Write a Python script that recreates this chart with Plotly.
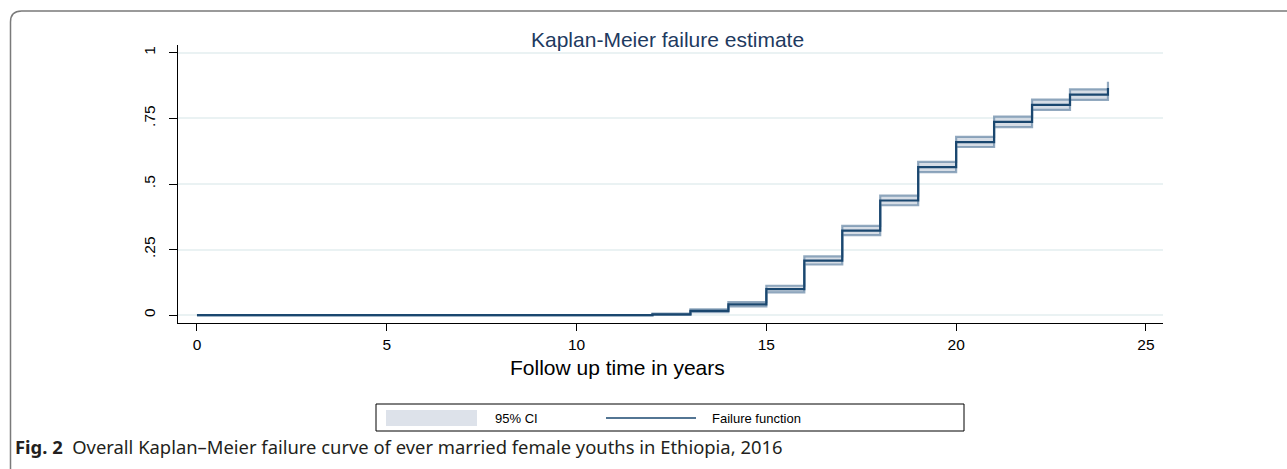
import plotly.graph_objects as go

# ---- data ----
times = [0, 12, 13, 14, 15, 16, 17, 18, 19, 20, 21, 22, 23, 24]
failure = [0, 0.003, 0.016, 0.041, 0.099, 0.208, 0.322, 0.437, 0.564, 0.660, 0.737, 0.802, 0.841, 0.866]
ci_lower = [0, 0.001, 0.011, 0.033, 0.087, 0.193, 0.305, 0.419, 0.545, 0.641, 0.717, 0.783, 0.821, 0.842]
ci_upper = [0, 0.006, 0.022, 0.050, 0.112, 0.224, 0.340, 0.456, 0.584, 0.680, 0.757, 0.822, 0.861, 0.890]
x_ticks = [0, 5, 10, 15, 20, 25]
y_ticks = [0, 0.25, 0.5, 0.75, 1]
y_tick_labels = ["0", ".25", ".5", ".75", "1"]

W, H = 1287, 469
L, R, T, B = 178, 1163, 45, 323  # plot area in pixels


def px(x):
    return (x - L) / (R - L)


def py(y):
    return (B - y) / (B - T)


NAVY = "#1A476F"
fig = go.Figure()

fig.add_trace(go.Scatter(x=times, y=ci_lower, mode="lines", line=dict(shape="hv", color="rgba(110,140,170,0.75)", width=2.2),
                         showlegend=False, hoverinfo="skip"))
fig.add_trace(go.Scatter(x=times, y=ci_upper, mode="lines", line=dict(shape="hv", color="rgba(110,140,170,0.75)", width=2.2),
                         fill="tonexty", fillcolor="rgba(200,210,222,0.75)", showlegend=False, hoverinfo="skip"))
fig.add_trace(go.Scatter(x=times, y=failure, mode="lines", line=dict(shape="hv", color=NAVY, width=2.2),
                         showlegend=False, hoverinfo="skip"))

fig.update_layout(
    width=W, height=H,
    margin=dict(l=L, r=W - R, t=T, b=H - B, pad=0),
    paper_bgcolor="white", plot_bgcolor="white",
    font=dict(family="Liberation Sans, Arial, sans-serif", color="black"),
    showlegend=False,
    xaxis=dict(range=[-0.5, 25.45], tickvals=x_ticks, ticks="outside", ticklen=7, tickcolor="black",
               showline=True, linecolor="black", linewidth=1, showgrid=False, zeroline=False,
               tickfont=dict(size=15.5)),
    yaxis=dict(range=[-0.03, 1.03], tickvals=y_ticks, ticktext=y_tick_labels, tickangle=-90,
               ticks="outside", ticklen=8, tickcolor="black", showline=True, linecolor="black", linewidth=1,
               showgrid=True, gridcolor="#EAF2F3", gridwidth=1.6, zeroline=False, tickfont=dict(size=15.5),
               ticklabelstandoff=8),
)

annotations = [
    dict(text="Kaplan-Meier failure estimate", x=px(667), y=py(40), xref="paper", yref="paper",
         showarrow=False, font=dict(size=21, color="#1E3A5F"), xanchor="center", yanchor="middle"),
    dict(text="Follow up time in years", x=px(617), y=py(367), xref="paper", yref="paper",
         showarrow=False, font=dict(size=21, color="black"), xanchor="center", yanchor="middle"),
    dict(text="95% CI", x=px(493), y=py(418), xref="paper", yref="paper",
         showarrow=False, font=dict(size=13, color="black"), xanchor="left", yanchor="middle"),
    dict(text="Failure function", x=px(710), y=py(418), xref="paper", yref="paper",
         showarrow=False, font=dict(size=13, color="black"), xanchor="left", yanchor="middle"),
    dict(text="<b>Fig. 2</b>  Overall Kaplan–Meier failure curve of ever married female youths in Ethiopia, 2016",
         x=px(13), y=py(446), xref="paper", yref="paper", showarrow=False,
         font=dict(size=18.4, color="#231F20", family="Noto Sans, Open Sans, sans-serif"),
         xanchor="left", yanchor="middle"),
]

shapes = [
    # legend box
    dict(type="rect", xref="paper", yref="paper", x0=px(376), x1=px(964), y0=py(404), y1=py(431),
         line=dict(color="black", width=1), fillcolor="rgba(0,0,0,0)"),
    # CI swatch
    dict(type="rect", xref="paper", yref="paper", x0=px(386), x1=px(477), y0=py(410), y1=py(426),
         line=dict(width=0), fillcolor="#DDE2EA"),
    # failure line swatch
    dict(type="line", xref="paper", yref="paper", x0=px(606), x1=px(696), y0=py(418), y1=py(418),
         line=dict(color=NAVY, width=1.6)),
    # outer rounded frame (top-left corner)
    dict(type="path", xref="paper", yref="paper",
         path=f"M {px(10.5)},{py(480)} L {px(10.5)},{py(22)} Q {px(10.5)},{py(11)} {px(21.5)},{py(11)} L {px(1300)},{py(11)}",
         line=dict(color="#7A7A7A", width=1.5)),
]

fig.update_layout(annotations=annotations, shapes=shapes)
fig.write_html("out.html", config={"displayModeBar": False},
               post_script="document.body.style.margin='0';document.body.style.overflow='hidden';")
